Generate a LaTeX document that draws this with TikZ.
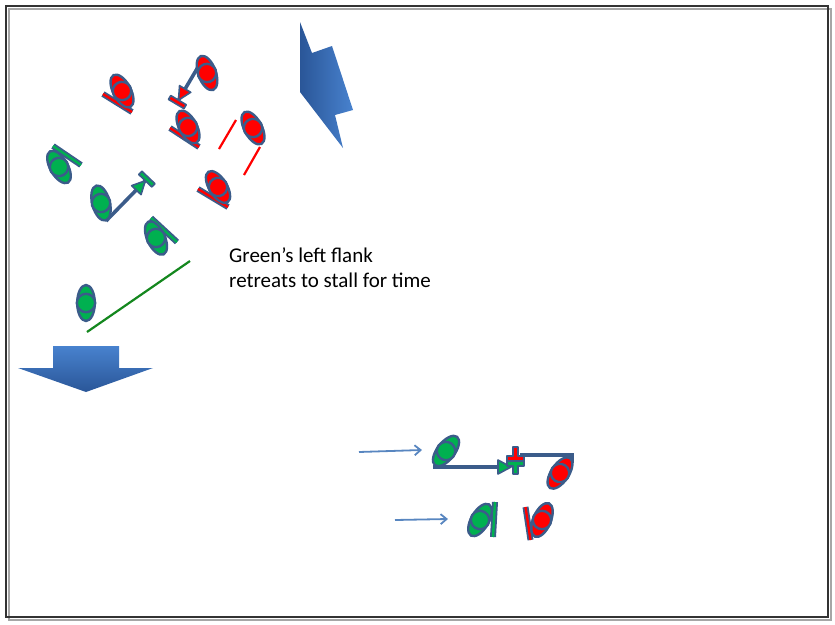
\documentclass[tikz,border=0pt]{standalone}
\usepackage{fontspec}
\setmainfont{Carlito}
\usetikzlibrary{arrows.meta}
\definecolor{outl}{RGB}{59,92,138}
\definecolor{ured}{RGB}{255,0,0}
\definecolor{ugreen}{RGB}{0,176,80}
\definecolor{bigA}{RGB}{72,130,206}
\definecolor{bigB}{RGB}{42,86,152}
\definecolor{thinA}{RGB}{88,134,192}
\definecolor{lgreen}{RGB}{20,135,30}
\newcommand\armyunit[4]{%
  \begin{scope}[shift={(#1,#2)}, rotate={-1*(#3)}]
    \draw[unitline, fill=#4] (0,0) ellipse [x radius=18, y radius=8.8];
    \draw[unitline, fill=#4] (0,0) circle [radius=9.2];
  \end{scope}}
\newcommand\wallhead[4]{%
  \begin{scope}[shift={(#1,#2)}, rotate={-1*(#3)}]
    \draw[clash, fill=#4] (-14,-6.5) -- (-1,0) -- (-14,6.5) -- cycle;
    \draw[clash, fill=#4] (-1,-9) rectangle (3.5,9);
  \end{scope}}
\begin{document}
\begin{tikzpicture}[x=1pt,y=-1pt,
  unitline/.style={draw=outl, line width=2.4pt},
  frontbar/.style={draw=outl, line width=1.8pt, double=#1, double distance=2.4pt},
  moveline/.style={draw=outl, line width=3.6pt},
  thinarrow/.style={draw=thinA, line width=1.8pt, -{Straight Barb[length=6pt,width=10pt]}},
  clash/.style={draw=outl, line width=1.6pt, line join=round}]
\useasboundingbox (0,0) rectangle (835,624);
% frame with shadow
\draw[black!35, line width=2pt] (8.5,8.5) rectangle (830.5,619.5);
\draw[black!80, line width=2.2pt] (6,6) rectangle (828,617);

% big arrows
\shade[left color=bigB, right color=bigA]
  (300,22) -- (312,53) -- (332,46) -- (353,110) -- (335,115) -- (343,148) -- (300,92) -- cycle;
\shade[top color=bigA, bottom color=bigB]
  (53,346) -- (119,346) -- (119,368) -- (153,368) -- (86,392) -- (18,368) -- (53,368) -- cycle;

% movement lines
\draw[moveline] (201,62) -- (178,101);
\wallhead{178}{101}{120.7}{ured}
\draw[moveline] (106,221) -- (146,180);
\wallhead{146}{180}{-46.4}{ugreen}

% front bars
\draw[frontbar=ured] (103,94) -- (132,112);
\draw[frontbar=ured] (170,128) -- (199,147);
\draw[frontbar=ured] (198,189) -- (228,207);
\draw[frontbar=ugreen] (53,146) -- (81,165);
\draw[frontbar=ugreen] (151,218) -- (177,242);
\draw[frontbar=ugreen] (495,502) -- (493,537);
\draw[frontbar=ured] (525.5,507) -- (530.5,540);

% thin red / green lines
\draw[ured, line width=2.2pt] (219,149) -- (236,120);
\draw[ured, line width=2.2pt] (260,147) -- (244,175);
\draw[lgreen, line width=2.2pt] (87,332) -- (190,261);

% units
\armyunit{122}{91}{62}{ured}
\armyunit{207}{73}{70}{ured}
\armyunit{188}{127}{62}{ured}
\armyunit{253}{128}{62}{ured}
\armyunit{218}{187}{58}{ured}
\armyunit{59}{167}{60}{ugreen}
\armyunit{101}{203}{75}{ugreen}
\armyunit{156}{238}{65}{ugreen}
\armyunit{86}{303}{90}{ugreen}

% bottom engagement
\draw[thinarrow] (359,452) -- (422,450);
\draw[thinarrow] (395,520) -- (448,519);
\draw[moveline] (433,467) -- (506,467);
\draw[moveline] (520,455) -- (572,455) -- (572,463);
\draw[clash, fill=ugreen] (498,460) -- (511,467) -- (498,474) -- cycle;
\draw[clash, fill=ured] (513,447) -- (518,447) -- (518,456) -- (524,456) -- (524,461) -- (507,461) -- (507,456) -- (513,456) -- cycle;
\draw[clash, fill=ugreen] (507,461) -- (524,461) -- (524,466) -- (518,466) -- (518,474) -- (513,474) -- (513,466) -- (507,466) -- cycle;
\armyunit{446}{451}{-52}{ugreen}
\armyunit{560}{473}{-56}{ured}
\armyunit{480}{520}{-60}{ugreen}
\armyunit{542}{520}{-67}{ured}

% text
\node[anchor=base west, inner sep=0pt, font=\fontsize{21}{25}\selectfont] (lbl1) at (229,262) {Green’s left flank};
\node[anchor=base west, inner sep=0pt, font=\fontsize{21}{25}\selectfont] (lbl2) at (229,287) {retreats to stall for time};
\end{tikzpicture}
\end{document}
